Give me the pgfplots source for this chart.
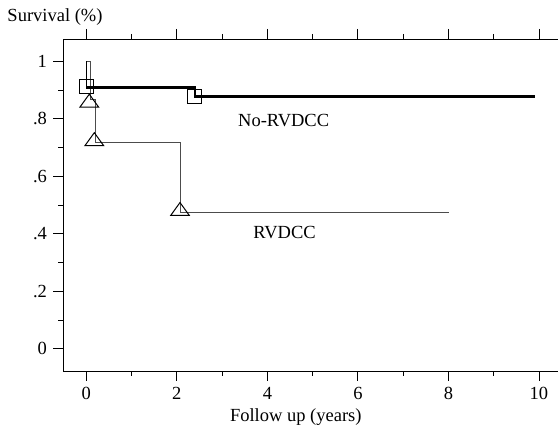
\documentclass[border=0pt]{standalone}
\usepackage{fontspec}
\setmainfont{Liberation Serif}
\usepackage{pgfplots}
\pgfplotsset{compat=1.18}

\begin{document}
\fontsize{18.5bp}{22bp}\selectfont
\begin{tikzpicture}
\useasboundingbox (-63.3bp,-55bp) rectangle (494.7bp,371bp);
\begin{axis}[
    at={(0,0)}, anchor=south west,
    scale only axis,
    width=494.7bp, height=332bp,
    xmin=-0.508, xmax=10.42,
    ymin=-0.077, ymax=1.078,
    axis x line*=box,
    axis y line*=left,
    axis line style={-, line width=0.9bp},
    tick align=outside,
    tick style={black, line width=0.9bp},
    major tick length=10bp,
    minor tick length=5bp,
    xtick={0,2,4,6,8,10},
    xticklabels={0,2,4,6,8,10},
    minor xtick={1,3,5,7,9},
    ytick={0,0.2,0.4,0.6,0.8,1},
    yticklabels={0,.2,.4,.6,.8,1},
    minor ytick={0.1,0.3,0.5,0.7,0.9},
    /pgf/number format/assume math mode=true,
    xlabel={Follow up (years)},
    xlabel style={at={(axis description cs:0.47,0)}, anchor=base, yshift=-50.7bp},
    clip=false,
]
% RVDCC
\addplot[black!70, line width=1bp] coordinates {
    (0,1) (0.097,1) (0.097,0.866) (0.21,0.866) (0.21,0.717)
    (2.085,0.717) (2.085,0.4755) (8.02,0.4755)
};
% No-RVDCC
\addplot[black, line width=1bp] coordinates {(0,1) (0,0.9096)};
\addplot[black, line width=2.2bp] coordinates {
    (0,0.9096) (2.40,0.9096) (2.40,0.8777) (9.91,0.8777)
};
% censor marks
\addplot[only marks, mark=square, mark size=7bp, mark options={black, line width=1bp}]
    coordinates {(0.01,0.912) (2.39,0.879)};
\addplot[only marks, mark=triangle, mark size=10.8bp, mark options={black, line width=1bp, yscale=0.8}]
    coordinates {(0.066,0.856) (0.177,0.722) (2.07,0.479)};

\node[anchor=base] at (rel axis cs:0,1) [xshift=-8.3bp, yshift=17.3bp] {Survival (\%)};
\node at (axis cs:4.36,0.793) {No-RVDCC};
\node at (axis cs:4.38,0.405) {RVDCC};
\end{axis}
\end{tikzpicture}
\end{document}
